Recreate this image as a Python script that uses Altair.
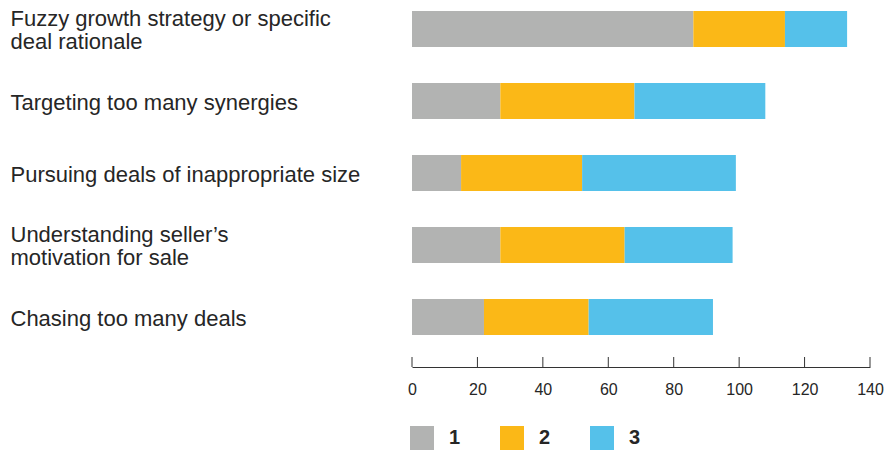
import altair as alt
import pandas as pd

categories = [
    "Fuzzy growth strategy or specific\ndeal rationale",
    "Targeting too many synergies",
    "Pursuing deals of inappropriate size",
    "Understanding seller\u2019s\nmotivation for sale",
    "Chasing too many deals",
]
series_names = ["1", "2", "3"]
values_1 = [86, 27, 15, 27, 22]
values_2 = [28, 41, 37, 38, 32]
values_3 = [19, 40, 47, 33, 38]
tick_values = [0, 20, 40, 60, 80, 100, 120, 140]
colors = ["#b2b3b2", "#fbb817", "#55c1ea"]

rows = []
for vals, name, idx in zip([values_1, values_2, values_3], series_names, [0, 1, 2]):
    for cat, v in zip(categories, vals):
        rows.append({"category": cat, "series": name, "order": idx, "value": v})
df = pd.DataFrame(rows)
ticks_df = pd.DataFrame({"t": tick_values})

FONT = "Liberation Sans"
TEXT = "#262626"
W, H = 458, 324
AXIS_OFF = 32

x_scale = alt.Scale(domain=[0, 140], nice=False, zero=True)

bars = alt.Chart(df).mark_bar().encode(
    y=alt.Y("category:N", sort=categories,
            scale=alt.Scale(paddingInner=0.5, paddingOuter=0),
            axis=alt.Axis(title=None, domain=False, ticks=False, labelAlign="left",
                          labelPadding=402, labelFontSize=22, labelFont=FONT,
                          labelColor=TEXT, labelLimit=420, labelLineHeight=23,
                          labelOffset={"condition": {"test": "indexof(datum.value, '\\n') >= 0",
                                                     "value": -10},
                                       "value": 1.5},
                          labelExpr="split(datum.label, '\\n')")),
    x=alt.X("value:Q", stack="zero", scale=x_scale,
            axis=alt.Axis(title=None, values=tick_values, ticks=False, tickSize=0,
                          domainColor="#333333", domainWidth=1, offset=AXIS_OFF,
                          labelPadding=14, labelFontSize=16, labelFont=FONT,
                          labelFlush=False, labelColor=TEXT, grid=False)),
    color=alt.Color("series:N", scale=alt.Scale(domain=series_names, range=colors),
                    legend=alt.Legend(title=None, orient="none", legendX=-2, legendY=415,
                                      direction="horizontal", columns=3,
                                      symbolType="square", symbolSize=576,
                                      symbolStrokeWidth=0, symbolOpacity=1,
                                      labelFont=FONT, labelFontSize=20,
                                      labelFontWeight="bold", labelColor=TEXT,
                                      labelOffset=15, columnPadding=39, padding=0)),
    order=alt.Order("order:Q", sort="ascending"),
)

tick_rules = alt.Chart(ticks_df).mark_rule(color="#333333", strokeWidth=1).encode(
    x=alt.X("t:Q", scale=x_scale),
    y=alt.value(H + AXIS_OFF - 10),
    y2=alt.value(H + AXIS_OFF),
)

chart = alt.layer(bars, tick_rules).properties(
    width=W, height=H,
    autosize=alt.AutoSizeParams(type="none"),
    padding={"left": 412, "top": 11, "right": 893 - 412 - W, "bottom": 450 - 11 - H},
).configure(background="white").configure_view(stroke=None)

chart.save("out.html", embed_options={"renderer": "svg", "actions": False})
